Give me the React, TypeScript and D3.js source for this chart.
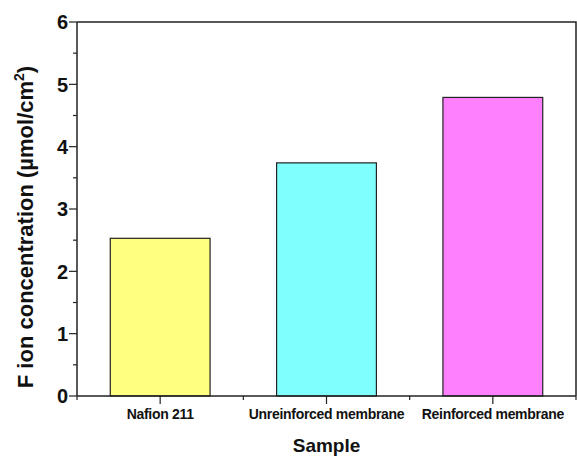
import React, { useEffect, useRef } from "react";
import * as d3 from "d3";

const categories = ["Nafion 211", "Unreinforced membrane", "Reinforced membrane"];
const values = [2.53, 3.74, 4.79];
const colors = ["#FFFF80", "#80FFFF", "#FF80FF"];
const yTicks = [0, 1, 2, 3, 4, 5, 6];

const W = 577;
const H = 457;
const M = { left: 77, right: 1, top: 22, bottom: 61 };

export default function App() {
  const ref = useRef<SVGSVGElement>(null);

  useEffect(() => {
    const svg = d3.select(ref.current);
    svg.selectAll("*").remove();

    const x = d3.scaleLinear().domain([0, categories.length]).range([M.left, W - M.right]);
    const y = d3.scaleLinear().domain([0, 6]).range([H - M.bottom, M.top]);
    const font = "Arial, 'Liberation Sans', sans-serif";
    const ink = "#222";

    // bars
    svg
      .append("g")
      .selectAll("rect")
      .data(values)
      .join("rect")
      .attr("x", (_, i) => x(i + 0.5) - (x(0.3) - x(0)))
      .attr("width", x(0.6) - x(0))
      .attr("y", (d) => y(d))
      .attr("height", (d) => y(0) - y(d))
      .attr("fill", (_, i) => colors[i])
      .attr("stroke", ink)
      .attr("stroke-width", 1.2);

    // frame (top + right)
    svg
      .append("path")
      .attr("d", `M${x(0)},${y(6)}H${x(3)}V${y(0)}`)
      .attr("fill", "none")
      .attr("stroke", ink)
      .attr("stroke-width", 1.5);

    // y axis
    const yMinor = d3.range(0.5, 6, 1);
    const yAxis = svg.append("g").attr("transform", `translate(${x(0)},0)`);
    yAxis.append("line").attr("y1", y(0)).attr("y2", y(6)).attr("stroke", ink).attr("stroke-width", 1.5);
    yAxis
      .selectAll("line.major")
      .data(yTicks)
      .join("line")
      .attr("class", "major")
      .attr("x1", -8)
      .attr("x2", 0)
      .attr("y1", (d) => y(d))
      .attr("y2", (d) => y(d))
      .attr("stroke", ink)
      .attr("stroke-width", 1.2);
    yAxis
      .selectAll("line.minor")
      .data(yMinor)
      .join("line")
      .attr("class", "minor")
      .attr("x1", -4)
      .attr("x2", 0)
      .attr("y1", (d) => y(d))
      .attr("y2", (d) => y(d))
      .attr("stroke", ink)
      .attr("stroke-width", 1.2);
    yAxis
      .selectAll("text")
      .data(yTicks)
      .join("text")
      .attr("x", -9)
      .attr("y", (d) => y(d))
      .attr("dy", "0.36em")
      .attr("text-anchor", "end")
      .attr("font-family", font)
      .attr("font-weight", "bold")
      .attr("font-size", 20)
      .attr("fill", "#111")
      .text((d) => d);

    // x axis
    const xAxis = svg.append("g").attr("transform", `translate(0,${y(0)})`);
    xAxis.append("line").attr("x1", x(0)).attr("x2", x(3)).attr("stroke", ink).attr("stroke-width", 1.5);
    const xMajor = categories.map((_, i) => i + 0.5);
    const xMinor = d3.range(0, categories.length + 1);
    xAxis
      .selectAll("line.major")
      .data(xMajor)
      .join("line")
      .attr("class", "major")
      .attr("x1", (d) => x(d))
      .attr("x2", (d) => x(d))
      .attr("y1", 0)
      .attr("y2", 8)
      .attr("stroke", ink)
      .attr("stroke-width", 1.2);
    xAxis
      .selectAll("line.minor")
      .data(xMinor)
      .join("line")
      .attr("class", "minor")
      .attr("x1", (d) => x(d))
      .attr("x2", (d) => x(d))
      .attr("y1", 0)
      .attr("y2", 4)
      .attr("stroke", ink)
      .attr("stroke-width", 1.2);
    xAxis
      .selectAll("text")
      .data(categories)
      .join("text")
      .attr("x", (_, i) => x(i + 0.5))
      .attr("y", 23)
      .attr("text-anchor", "middle")
      .attr("font-family", font)
      .attr("font-weight", "bold")
      .attr("font-size", 14)
      .attr("letter-spacing", -0.3)
      .attr("fill", "#111")
      .text((d) => d);

    // axis titles
    svg
      .append("text")
      .attr("x", x(1.5))
      .attr("y", 452)
      .attr("text-anchor", "middle")
      .attr("font-family", font)
      .attr("font-weight", "bold")
      .attr("font-size", 19)
      .attr("fill", "#111")
      .text("Sample");

    const title = svg
      .append("text")
      .attr("transform", `translate(33,227) rotate(-90)`)
      .attr("text-anchor", "middle")
      .attr("font-family", font)
      .attr("font-weight", "bold")
      .attr("font-size", 22)
      .attr("fill", "#111");
    title.append("tspan").text("F ion concentration (\u00B5mol/cm");
    title.append("tspan").attr("font-size", 14).attr("dy", -9).text("2");
    title.append("tspan").attr("dy", 9).text(")");
  }, []);

  return (
    <svg
      ref={ref}
      width={W}
      height={H}
      style={{ position: "absolute", left: 0, top: 0, background: "#fff" }}
    />
  );
}
